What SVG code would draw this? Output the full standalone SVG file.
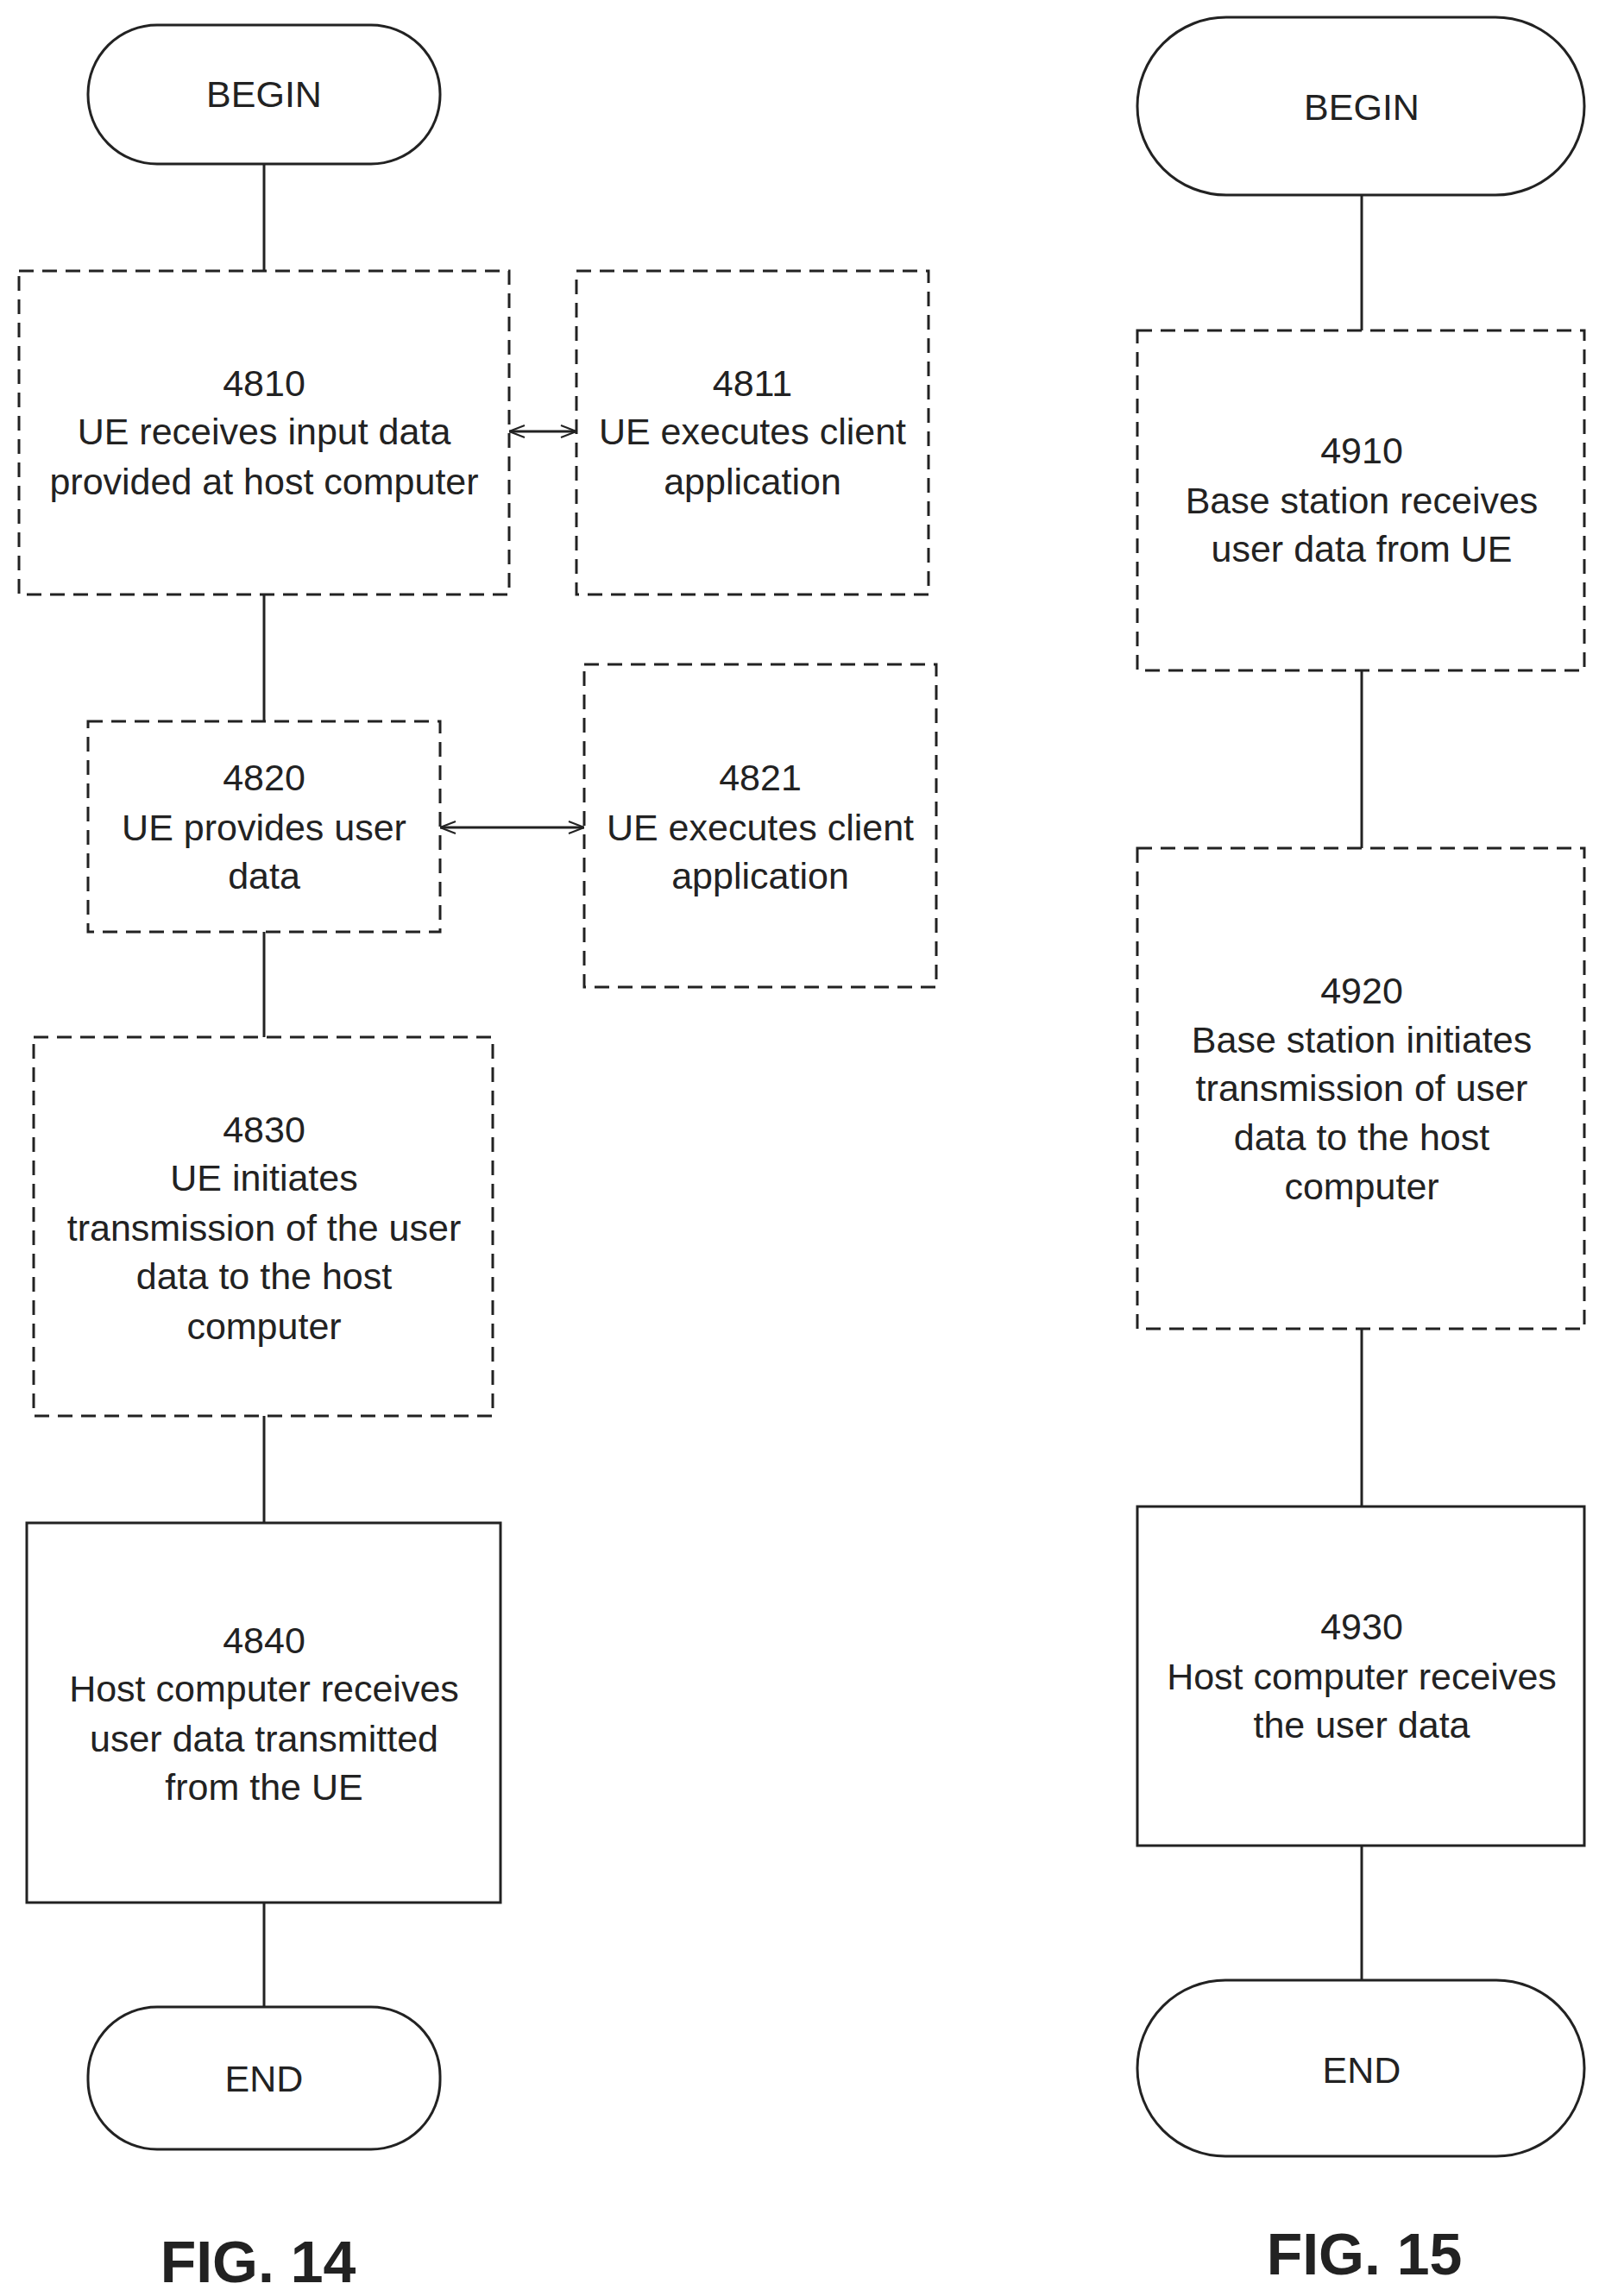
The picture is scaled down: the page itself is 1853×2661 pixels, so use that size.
<svg xmlns="http://www.w3.org/2000/svg" width="1853" height="2661" viewBox="0 0 1853 2661">
<style>
.b{fill:#fff;stroke:#222;stroke-width:3}
.d{stroke-dasharray:17,10}
text{font-family:"Liberation Sans",Arial,sans-serif;font-size:43px;fill:#222;text-anchor:middle;dominant-baseline:central}
.f{font-size:68px;font-weight:bold}
.c line{stroke:#222;stroke-width:3}
</style>
<defs>
<marker id="a" viewBox="0 0 20 20" refX="19" refY="10" markerWidth="20" markerHeight="20" markerUnits="userSpaceOnUse" orient="auto-start-reverse">
<polyline points="1,3 19,10 1,17" fill="none" stroke="#222" stroke-width="2"/>
</marker>
</defs>
<g class="c" id="connectors">
<line x1="306" y1="190" x2="306" y2="314"/>
<line x1="306" y1="689" x2="306" y2="836"/>
<line x1="306" y1="1080" x2="306" y2="1202"/>
<line x1="306" y1="1641" x2="306" y2="1765"/>
<line x1="306" y1="2205" x2="306" y2="2326"/>
<line x1="590" y1="500" x2="668" y2="500" marker-start="url(#a)" marker-end="url(#a)"/>
<line x1="510" y1="959" x2="677" y2="959" marker-start="url(#a)" marker-end="url(#a)"/>
<line x1="1578" y1="226" x2="1578" y2="383"/>
<line x1="1578" y1="777" x2="1578" y2="983"/>
<line x1="1578" y1="1540" x2="1578" y2="1746"/>
<line x1="1578" y1="2139" x2="1578" y2="2295"/>
</g>
<g id="begin14"><rect class="b" x="102" y="29" width="408" height="161" rx="80"/><text x="306" y="109">BEGIN</text></g>
<g id="n4810"><rect class="b d" x="22" y="314" width="568" height="375"/><text x="306" y="444">4810</text><text x="306" y="500">UE receives input data</text><text x="306" y="558">provided at host computer</text></g>
<g id="n4811"><rect class="b d" x="668" y="314" width="408" height="375"/><text x="872" y="444">4811</text><text x="872" y="500">UE executes client</text><text x="872" y="558">application</text></g>
<g id="n4820"><rect class="b d" x="102" y="836" width="408" height="244"/><text x="306" y="901">4820</text><text x="306" y="959">UE provides user</text><text x="306" y="1015">data</text></g>
<g id="n4821"><rect class="b d" x="677" y="770" width="408" height="374"/><text x="881" y="901">4821</text><text x="881" y="959">UE executes client</text><text x="881" y="1015">application</text></g>
<g id="n4830"><rect class="b d" x="39" y="1202" width="532" height="439"/><text x="306" y="1309">4830</text><text x="306" y="1365">UE initiates</text><text x="306" y="1423">transmission of the user</text><text x="306" y="1479">data to the host</text><text x="306" y="1537">computer</text></g>
<g id="n4840"><rect class="b" x="31" y="1765" width="549" height="440"/><text x="306" y="1901">4840</text><text x="306" y="1957">Host computer receives</text><text x="306" y="2015">user data transmitted</text><text x="306" y="2071">from the UE</text></g>
<g id="end14"><rect class="b" x="102" y="2326" width="408" height="165" rx="80"/><text x="306" y="2409">END</text></g>
<text class="f" x="299" y="2621">FIG. 14</text>
<g id="begin15"><rect class="b" x="1318" y="20" width="518" height="206" rx="103"/><text x="1578" y="124">BEGIN</text></g>
<g id="n4910"><rect class="b d" x="1318" y="383" width="518" height="394"/><text x="1578" y="522">4910</text><text x="1578" y="580">Base station receives</text><text x="1578" y="636">user data from UE</text></g>
<g id="n4920"><rect class="b d" x="1318" y="983" width="518" height="557"/><text x="1578" y="1148">4920</text><text x="1578" y="1205">Base station initiates</text><text x="1578" y="1261">transmission of user</text><text x="1578" y="1318">data to the host</text><text x="1578" y="1375">computer</text></g>
<g id="n4930"><rect class="b" x="1318" y="1746" width="518" height="393"/><text x="1578" y="1885">4930</text><text x="1578" y="1943">Host computer receives</text><text x="1578" y="1999">the user data</text></g>
<g id="end15"><rect class="b" x="1318" y="2295" width="518" height="204" rx="102"/><text x="1578" y="2399">END</text></g>
<text class="f" x="1581" y="2612">FIG. 15</text>
</svg>
